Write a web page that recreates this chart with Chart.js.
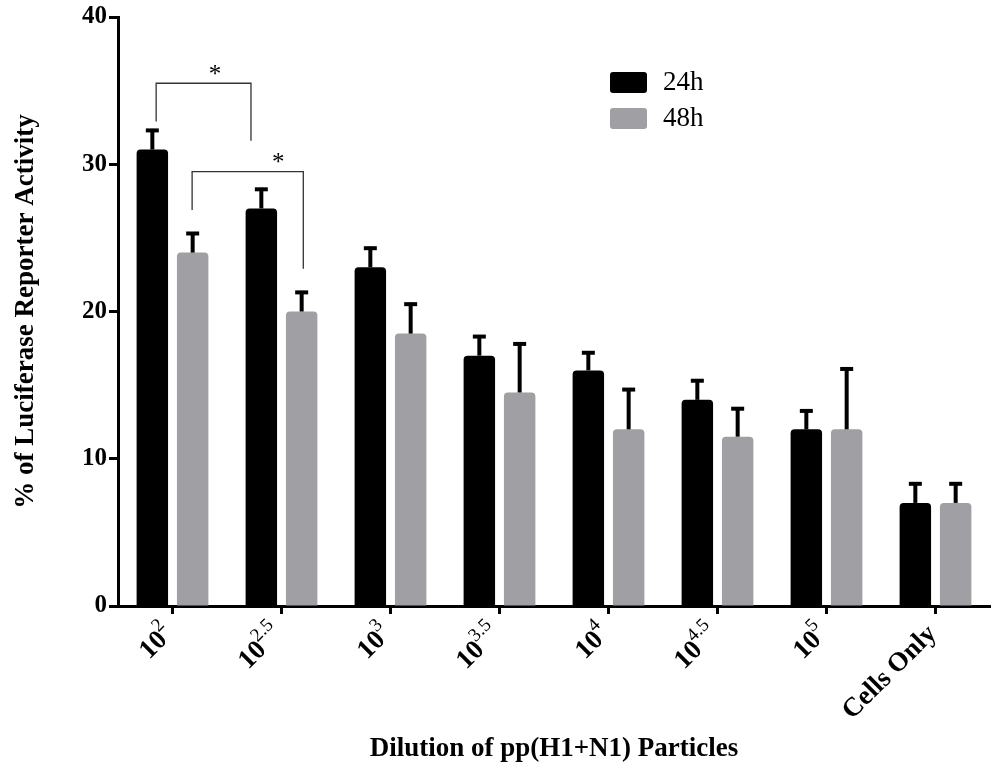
<!DOCTYPE html>
<html>
<head>
<meta charset="utf-8">
<script src="https://cdn.jsdelivr.net/npm/chart.js@4.4.1/dist/chart.umd.min.js"></script>
<style>
  body { margin: 0; background: #fff; }
  #wrap { width: 993px; height: 769px; position: relative; }
</style>
</head>
<body>
<div id="wrap"><canvas id="chart"></canvas></div>
<script>
const categories = ["10^2", "10^2.5", "10^3", "10^3.5", "10^4", "10^4.5", "10^5", "Cells Only"];
const tickBase = ["10", "10", "10", "10", "10", "10", "10", "Cells Only"];
const tickExp = ["2", "2.5", "3", "3.5", "4", "4.5", "5", ""];

const values24h = [31, 27, 23, 17, 16, 14, 12, 7];
const values48h = [24, 20, 18.5, 14.5, 12, 11.5, 12, 7];
const err24h = [1.4, 1.4, 1.4, 1.4, 1.3, 1.4, 1.35, 1.4];
const err48h = [1.4, 1.4, 2.1, 3.4, 2.8, 2.0, 4.2, 1.4];

// significance brackets, x in category units, y in data units
const sigX1 = [-0.15, 0.18];
const sigX2 = [0.72, 1.2];
const sigTop = [35.5, 29.5];
const sigLeftEnd = [32.9, 26.9];
const sigRightEnd = [31.6, 22.9];
const sigStarX = [0.39, 0.97];
const sigLabel = ["*", "*"];

const FONT = "'Liberation Serif', 'Times New Roman', serif";
const GRAY = "#a09fa4";

// upper error bars
const errorBars = {
  id: "errorBars",
  afterDatasetsDraw(chart) {
    const { ctx } = chart;
    const y = chart.scales.y;
    const errs = [err24h, err48h];
    ctx.save();
    ctx.strokeStyle = "#000";
    chart.data.datasets.forEach((ds, i) => {
      chart.getDatasetMeta(i).data.forEach((bar, j) => {
        const top = y.getPixelForValue(ds.data[j] + errs[i][j]);
        ctx.lineWidth = 4;
        ctx.beginPath();
        ctx.moveTo(bar.x, bar.y);
        ctx.lineTo(bar.x, top);
        ctx.stroke();
        ctx.beginPath();
        ctx.moveTo(bar.x - 6.5, top + 1.5);
        ctx.lineTo(bar.x + 6.5, top + 1.5);
        ctx.stroke();
      });
    });
    ctx.restore();
  }
};

// brackets with stars
const sigBrackets = {
  id: "sigBrackets",
  afterDatasetsDraw(chart) {
    const { ctx } = chart;
    const xs = chart.scales.x, ys = chart.scales.y;
    const step = xs.getPixelForValue(1) - xs.getPixelForValue(0);
    const px = v => xs.getPixelForValue(0) + v * step;
    ctx.save();
    ctx.strokeStyle = "#333";
    ctx.lineWidth = 1.3;
    sigX1.forEach((x1, k) => {
      const a = px(x1), b = px(sigX2[k]);
      const t = ys.getPixelForValue(sigTop[k]);
      ctx.beginPath();
      ctx.moveTo(a, ys.getPixelForValue(sigLeftEnd[k]));
      ctx.lineTo(a, t);
      ctx.lineTo(b, t);
      ctx.lineTo(b, ys.getPixelForValue(sigRightEnd[k]));
      ctx.stroke();
      ctx.fillStyle = "#000";
      ctx.font = "25px " + FONT;
      ctx.textAlign = "center";
      ctx.textBaseline = "middle";
      ctx.fillText(sigLabel[k], px(sigStarX[k]), t - 8);
    });
    ctx.restore();
  }
};

// rotated category labels with superscripts
const xLabels = {
  id: "xLabels",
  afterDraw(chart) {
    const { ctx } = chart;
    const xs = chart.scales.x;
    ctx.save();
    categories.forEach((c, i) => {
      const x = xs.getPixelForValue(i);
      ctx.font = "bold 27px " + FONT;
      const wb = ctx.measureText(tickBase[i]).width;
      ctx.font = "19px " + FONT;
      const we = tickExp[i] ? ctx.measureText(tickExp[i]).width - 1 : 0;
      ctx.save();
      ctx.translate(x - 3, xs.top + 24);
      ctx.rotate(-Math.PI / 4);
      ctx.fillStyle = "#000";
      ctx.textBaseline = "middle";
      ctx.textAlign = "left";
      ctx.font = "bold 27px " + FONT;
      ctx.fillText(tickBase[i], -(wb + we), 0);
      if (tickExp[i]) {
        ctx.font = "19px " + FONT;
        ctx.fillText(tickExp[i], -we - 1, -11);
      }
      ctx.restore();
    });
    ctx.restore();
  }
};

// legend in the plot area
const boxLegend = {
  id: "boxLegend",
  afterDraw(chart) {
    const { ctx } = chart;
    ctx.save();
    chart.data.datasets.forEach((ds, i) => {
      const y0 = 72 + i * 36;
      ctx.fillStyle = ds.backgroundColor;
      ctx.beginPath();
      ctx.roundRect(610, y0, 37, 21, 3);
      ctx.fill();
      ctx.fillStyle = "#000";
      ctx.font = "27px " + FONT;
      ctx.textBaseline = "middle";
      ctx.textAlign = "left";
      ctx.fillText(ds.label, 663, y0 + 11);
    });
    ctx.restore();
  }
};

new Chart(document.getElementById("chart"), {
  type: "bar",
  data: {
    labels: categories,
    datasets: [
      { label: "24h", data: values24h, backgroundColor: "#000000", borderRadius: 4,
        categoryPercentage: 0.74, barPercentage: 0.78 },
      { label: "48h", data: values48h, backgroundColor: GRAY, borderRadius: 4,
        categoryPercentage: 0.74, barPercentage: 0.78 }
    ]
  },
  options: {
    responsive: true,
    maintainAspectRatio: false,
    animation: false,
    layout: { padding: { top: 16, right: 3, left: 0, bottom: 0 } },
    plugins: {
      legend: { display: false },
      tooltip: { enabled: false }
    },
    scales: {
      x: {
        afterFit(scale) { scale.height = 163; },
        grid: { drawOnChartArea: false, offset: false, tickLength: 8, tickWidth: 3, tickColor: "#000" },
        border: { color: "#000", width: 3 },
        ticks: { display: false },
        title: {
          display: true,
          text: "Dilution of pp(H1+N1) Particles",
          color: "#000",
          font: { family: FONT, size: 27, weight: "bold" },
          padding: { bottom: 4 }
        }
      },
      y: {
        min: 0,
        max: 40,
        afterFit(scale) { scale.width = 118; },
        grid: { drawOnChartArea: false, tickLength: 9, tickWidth: 3, tickColor: "#000" },
        border: { color: "#000", width: 3 },
        ticks: {
          stepSize: 10,
          color: "#000",
          padding: 2,
          font: { family: FONT, size: 25, weight: "bold" }
        },
        title: {
          display: true,
          text: "% of Luciferase Reporter Activity",
          color: "#000",
          font: { family: FONT, size: 27, weight: "bold" },
          padding: { top: 10 }
        }
      }
    }
  },
  plugins: [errorBars, sigBrackets, xLabels, boxLegend]
});
</script>
</body>
</html>
